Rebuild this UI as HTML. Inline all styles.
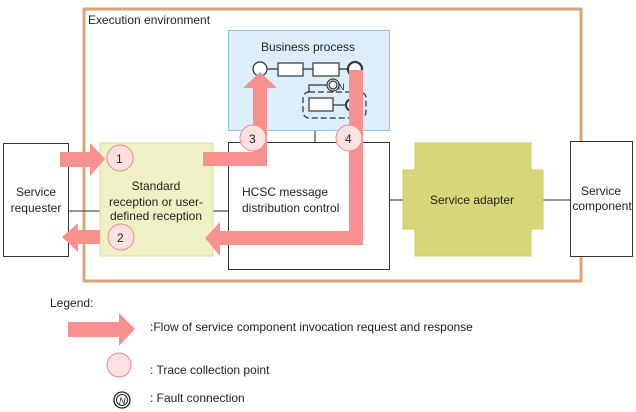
<!DOCTYPE html>
<html><head><style>body{margin:0;background:#fff}svg{display:block}text{font-family:"Liberation Sans",sans-serif;font-size:12px;fill:#222}</style></head><body>
<svg width="636" height="412" viewBox="0 0 636 412">
<rect x="84" y="9" width="497" height="272" fill="none" stroke="#d9a67a" stroke-width="3"/>
<text x="88" y="24">Execution environment</text>
<g stroke="#555" stroke-width="1.3">
<line x1="68" y1="211" x2="100" y2="211"/><line x1="213" y1="211" x2="228" y2="211"/>
<line x1="389" y1="200" x2="403" y2="200"/><line x1="543" y1="200" x2="570" y2="200"/>
<line x1="315" y1="130" x2="315" y2="142"/>
</g>
<rect x="3.5" y="143.5" width="65" height="113" fill="#fff" stroke="#333"/>
<text x="36" y="196" text-anchor="middle">Service</text><text x="36" y="212" text-anchor="middle">requester</text>
<rect x="100" y="143" width="113" height="113" fill="#eff1c4" stroke="#dadd9c"/>
<text x="156" y="190" text-anchor="middle">Standard</text>
<text x="156" y="206" text-anchor="middle">reception or user-</text>
<text x="156" y="220" text-anchor="middle">defined reception</text>
<rect x="228.5" y="30.5" width="161" height="100" fill="#dcedfc" stroke="#8fc0ee"/>
<text x="308" y="51" text-anchor="middle">Business process</text>
<rect x="228.5" y="142.5" width="161" height="127" fill="#fff" stroke="#333"/>
<text x="242" y="196">HCSC message</text><text x="242" y="212">distribution control</text>
<path d="M415 143H531V170H543V229H531V256H415V229H403V170H415Z" fill="#d7d77a" stroke="#cbcb66"/>
<text x="472" y="204" text-anchor="middle">Service adapter</text>
<rect x="570.5" y="141.5" width="62" height="115" fill="#fff" stroke="#333"/>
<text x="601" y="195" text-anchor="middle">Service</text><text x="602" y="210" text-anchor="middle">component</text>
<g stroke="#333" stroke-width="1.2" fill="#fff">
<line x1="267" y1="69" x2="348" y2="69"/>
<circle cx="260" cy="69" r="7"/>
<rect x="278" y="63" width="25" height="13"/><rect x="313" y="63" width="26" height="13"/>
<circle cx="355" cy="69" r="7" stroke-width="2.2"/>
<rect x="303" y="92" width="63" height="26" rx="6" fill="none" stroke-dasharray="6,3"/>
<line x1="333" y1="105" x2="345" y2="105"/>
<rect x="309" y="98" width="24" height="13"/>
<circle cx="352" cy="105" r="6" stroke-width="2"/>
<polyline points="309,92 309,85 327,85" fill="none"/>
<circle cx="333" cy="85" r="6"/><circle cx="333" cy="85" r="4"/>
</g>
<text x="338" y="90" style="font-size:9px">N</text>
<g fill="#f99090">
<path d="M60 152H90V143L105 159L90 176V167H60Z"/>
<path d="M203 152H253V88H243L260 72L277 88H267V166H203Z"/>
<path d="M349 70H363V245H220V256L205 238L220 222V231H349Z"/>
<path d="M100 230H78V223L62 237L78 252V244H100Z"/>
<path d="M68 322H119V313L135 329L119 346V337H68Z"/>
</g>
<g fill="#fde1e1" stroke="#f08a8a" stroke-width="1">
<circle cx="120" cy="158" r="13"/><circle cx="121" cy="237" r="13"/>
<circle cx="253" cy="138" r="13"/><circle cx="349" cy="138" r="13"/>
<circle cx="119" cy="365" r="12"/>
</g>
<text x="116" y="163">1</text><text x="117" y="242">2</text><text x="249" y="143">3</text><text x="345" y="143">4</text>
<text x="50" y="307">Legend:</text>
<text x="150" y="331">:Flow of service component invocation request and response</text>
<text x="150" y="374">: Trace collection point</text>
<circle cx="122" cy="400" r="8" fill="#fff" stroke="#222" stroke-width="1.3"/><circle cx="122" cy="400" r="5.5" fill="none" stroke="#222"/>
<text x="119" y="404" style="font-size:9px;font-style:italic">N</text>
<text x="150" y="402">: Fault connection</text>
</svg>
</body></html>
